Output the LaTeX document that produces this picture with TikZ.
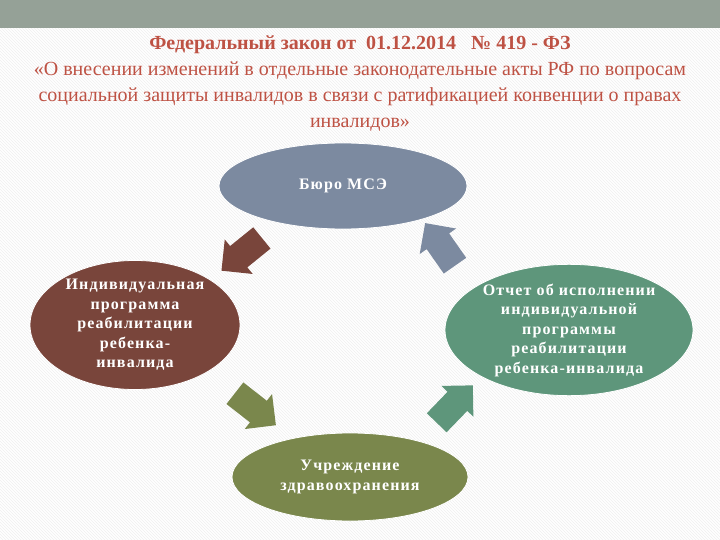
\documentclass[tikz,border=0pt]{standalone}
\usepackage{fontspec}
\setmainfont{Liberation Serif}
\newfontfamily\spacedfont[LetterSpace=7]{Liberation Serif}
\usetikzlibrary{shapes.geometric,shapes.arrows,patterns}
\definecolor{topbar}{RGB}{149,161,151}
\definecolor{titlered}{RGB}{190,82,68}
\definecolor{mseslate}{RGB}{124,138,160}
\definecolor{iprbrown}{RGB}{121,69,59}
\definecolor{reportgreen}{RGB}{94,150,123}
\definecolor{clinicolive}{RGB}{122,135,76}

\tikzset{
    stage/.style={ellipse, draw=white, line width=0.8pt, text=white, inner sep=0pt,
        align=center, font=\spacedfont\bfseries\fontsize{16}{19.5}\selectfont},
    flowarrow/.style={single arrow, single arrow head extend=8.5pt,
        single arrow tip angle=90, minimum height=52pt, inner xsep=0pt, inner ysep=13.5pt}
}

\begin{document}
\begin{tikzpicture}[x=1pt,y=-1pt]
    \useasboundingbox (0,0) rectangle (720,540);
    % Background
    \fill[white] (0,0) rectangle (720,540);
    \fill[pattern=north west lines, pattern color=black!6] (0,28) rectangle (720,540);
    \fill[topbar] (0,0) rectangle (720,28);

    % Title
    \node[text=titlered, align=center, font=\fontsize{20}{26}\selectfont] (title) at (360,84)
        {{\bfseries Федеральный закон от\ \ 01.12.2014\ \ \ №~419 - ФЗ}\\
         «О внесении изменений в отдельные законодательные акты РФ по вопросам\\
         социальной защиты инвалидов в связи с ратификацией конвенции о правах\\
         инвалидов»};

    % Stages
    \node[stage, fill=mseslate, minimum width=248pt, minimum height=86pt] (mse) at (343,186)
        {Бюро МСЭ};
    \node[stage, fill=iprbrown, minimum width=210pt, minimum height=128pt] (ipr) at (135,325)
        {Индивидуальная\\программа\\реабилитации\\ребенка-\\инвалида};
    \node[stage, fill=reportgreen, minimum width=248pt, minimum height=114pt] (report) at (569,330)
        {Отчет об исполнении\\индивидуальной\\программы\\реабилитации\\ребенка-инвалида};
    \node[stage, fill=clinicolive, minimum width=236pt, minimum height=88pt] (clinic) at (350,477)
        {Учреждение\\здравоохранения};

    % Arrows
    \node[flowarrow, fill=iprbrown, rotate=219] (toipr) at (247,250) {};
    \node[flowarrow, fill=clinicolive, rotate=-38] (toclinic) at (250,405) {};
    \node[flowarrow, fill=reportgreen, rotate=46] (toreport) at (450,409) {};
    \node[flowarrow, fill=mseslate, rotate=125] (tomse) at (444,250) {};
\end{tikzpicture}
\end{document}
